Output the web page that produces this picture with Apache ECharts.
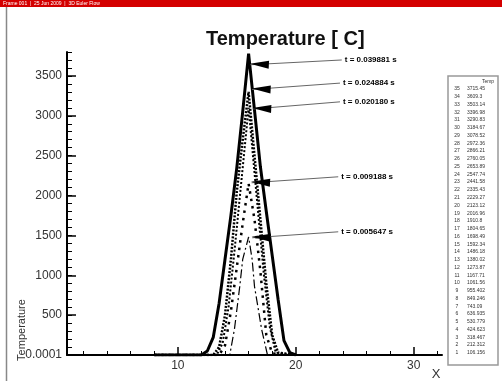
<!DOCTYPE html>
<html>
<head>
<meta charset="utf-8">
<script src="https://cdn.jsdelivr.net/npm/echarts@6/dist/echarts.min.js"></script>
<style>
  html, body { margin: 0; padding: 0; background: #fff; }
  #chart { width: 502px; height: 381px; }
</style>
</head>
<body>
<div id="chart"></div>
<script>
// temperature profiles along x at five instants
var x1 = [8, 12, 12.5, 13, 13.5, 14, 14.5, 15, 15.5, 16, 16.5, 17, 17.5, 18, 18.5, 19, 19.5, 20];
var t1 = [0, 0, 50, 220, 650, 1200, 1750, 2350, 3050, 3780, 3070, 2360, 1800, 1250, 700, 180, 30, 0];

var x2 = [8, 13, 13.5, 14, 14.5, 15, 15.5, 16, 16.5, 17, 17.5, 18, 18.5, 20];
var t2 = [0, 0, 100, 500, 1200, 2050, 2700, 3300, 2500, 1700, 900, 250, 30, 0];

var x3 = [8, 13.3, 13.8, 14.3, 14.8, 15.3, 15.6, 16, 16.4, 16.8, 17.3, 17.8, 18.3, 20];
var t3 = [0, 0, 150, 600, 1300, 2050, 2500, 3100, 2450, 1800, 1000, 350, 30, 0];

var x4 = [8, 13.5, 14, 14.5, 15, 15.5, 16, 16.5, 17, 17.5, 18, 20];
var t4 = [0, 0, 120, 550, 1100, 1650, 2150, 1700, 1050, 250, 20, 0];

var x5 = [8, 14.4, 14.8, 15.25, 15.5, 16, 16.3, 16.5, 17.1, 17.6, 20];
var t5 = [0, 0, 325, 860, 1200, 1480, 1200, 860, 325, 0, 0];

var timeLabels = ['t = 0.039881 s', 't = 0.024884 s', 't = 0.020180 s', 't = 0.009188 s', 't = 0.005647 s'];

var xMajor = [10, 20, 30];
var xMinor = [2, 4, 6, 8, 12, 14, 16, 18, 22, 24, 26, 28, 32];
var yMajor = [0, 500, 1000, 1500, 2000, 2500, 3000, 3500];

// contour level table
var levelIds = [35, 34, 33, 32, 31, 30, 29, 28, 27, 26, 25, 24, 23, 22, 21, 20, 19, 18, 17, 16, 15, 14, 13, 12, 11, 10, 9, 8, 7, 6, 5, 4, 3, 2, 1];
var levelVals = ['3715.45', '3609.3', '3503.14', '3396.98', '3290.83', '3184.67', '3078.52', '2972.36', '2866.21', '2760.05',
  '2653.89', '2547.74', '2441.58', '2335.43', '2229.27', '2123.12', '2016.96', '1910.8', '1804.65', '1698.49',
  '1592.34', '1486.18', '1380.02', '1273.87', '1167.71', '1061.56', '955.402', '849.246', '743.09', '636.935',
  '530.779', '424.623', '318.467', '212.312', '106.156'];

var FONT = 'Liberation Sans, Arial, sans-serif';

function pairs(xs, ys) {
  return xs.map(function (x, i) { return [x, ys[i]]; });
}

var myChart = echarts.init(document.getElementById('chart'));

// arrows: label end point -> tip on the curve
var arrows = [
  { label: [23.9, 3700], tip: [16.15, 3640] },
  { label: [23.75, 3410], tip: [16.3, 3330] },
  { label: [23.75, 3175], tip: [16.35, 3085] },
  { label: [23.6, 2235], tip: [16.25, 2160] },
  { label: [23.6, 1545], tip: [16.3, 1470] }
];
var markLines = arrows.map(function (a, i) {
  return [{ name: timeLabels[i], coord: a.label }, { coord: a.tip }];
});
var markHeads = arrows.map(function (a) {
  return { coord: a.tip, symbol: 'triangle', symbolSize: [8, 19], symbolRotate: 87, symbolOffset: [9, -0.5] };
});

// level table graphics
var table = [
  { type: 'rect', shape: { x: 448, y: 76, width: 50, height: 289 }, style: { fill: '#fff', stroke: '#999', lineWidth: 1.5 } },
  { type: 'text', x: 488, y: 82, style: { text: 'Temp', font: '5px ' + FONT, fill: '#333', align: 'center', verticalAlign: 'middle' } }
];
levelIds.forEach(function (id, i) {
  var yy = 89 + i * 7.76;
  table.push({ type: 'text', x: 457, y: yy, style: { text: String(id), font: '5px ' + FONT, fill: '#333', align: 'center', verticalAlign: 'middle' } });
  table.push({ type: 'text', x: 467, y: yy, style: { text: levelVals[i], font: '5px ' + FONT, fill: '#333', align: 'left', verticalAlign: 'middle' } });
});

var option = {
  animation: false,
  backgroundColor: '#fff',
  title: {
    text: 'Temperature [ C]',
    left: 201, top: 24,
    textStyle: { fontSize: 20, fontWeight: 'bold', color: '#111', fontFamily: FONT }
  },
  grid: { left: 67, right: 60, top: 52, bottom: 26 },
  xAxis: [
    {
      type: 'value', min: 0.6, max: 32.4,
      axisLine: { show: true, onZero: false, lineStyle: { color: '#000', width: 2 } },
      axisTick: { show: true, inside: true, length: 8, customValues: xMajor, lineStyle: { color: '#000', width: 1.5 } },
      axisLabel: { customValues: xMajor, color: '#333', fontSize: 12, fontFamily: FONT, margin: 5 },
      splitLine: { show: false }
    },
    {
      type: 'value', min: 0.6, max: 32.4, position: 'bottom',
      axisLine: { show: false },
      axisTick: { show: true, inside: true, length: 4, customValues: xMinor, lineStyle: { color: '#000', width: 1 } },
      axisLabel: { show: false },
      splitLine: { show: false }
    }
  ],
  yAxis: [
    {
      type: 'value', min: 0, max: 3800,
      axisLine: { show: true, onZero: false, lineStyle: { color: '#000', width: 2 } },
      axisTick: { show: true, inside: true, length: 9, customValues: yMajor, lineStyle: { color: '#000', width: 1.5 } },
      axisLabel: {
        customValues: yMajor, color: '#333', fontSize: 12, fontFamily: FONT, margin: 5,
        formatter: function (v) { return v === 0 ? '0.0001' : String(v); }
      },
      splitLine: { show: false }
    },
    {
      type: 'value', min: 0, max: 3800, position: 'left', interval: 100,
      axisLine: { show: false },
      axisTick: { show: true, inside: true, length: 5, lineStyle: { color: '#000', width: 1 } },
      axisLabel: { show: false },
      splitLine: { show: false }
    }
  ],
  series: [
    {
      name: timeLabels[0], type: 'line', data: pairs(x1, t1), symbol: 'none',
      lineStyle: { color: '#000', width: 3 },
      markLine: {
        silent: true,
        symbol: ['none', 'none'],
        lineStyle: { color: '#666', width: 1, type: 'solid' },
        label: { show: true, position: 'start', formatter: '{b}', color: '#000', fontSize: 8, fontWeight: 'bold', fontFamily: FONT, distance: 3 },
        data: markLines
      },
      markPoint: {
        silent: true,
        itemStyle: { color: '#000' },
        label: { show: false },
        data: markHeads
      }
    },
    {
      name: timeLabels[1], type: 'line', data: pairs(x2, t2), symbol: 'none',
      lineStyle: { color: '#000', width: 2.5, type: [2, 1.5] }
    },
    {
      name: timeLabels[2], type: 'line', data: pairs(x3, t3), symbol: 'none',
      lineStyle: { color: '#000', width: 2, type: [2, 2] }
    },
    {
      name: timeLabels[3], type: 'line', data: pairs(x4, t4), symbol: 'none',
      lineStyle: { color: '#000', width: 2.5, type: [2.5, 5] }
    },
    {
      name: timeLabels[4], type: 'line', data: pairs(x5, t5), symbol: 'none',
      lineStyle: { color: '#000', width: 1.2, type: [9, 3, 2, 3] }
    }
  ],
  graphic: [
    { type: 'rect', shape: { x: 0, y: 0, width: 502, height: 7 }, style: { fill: '#d40000' } },
    { type: 'text', x: 3, y: 3.5, style: { text: 'Frame 001  |  25 Jun 2009  |  3D Euler Flow', font: '5px ' + FONT, fill: '#fff', verticalAlign: 'middle' } },
    { type: 'line', shape: { x1: 6.5, y1: 7, x2: 6.5, y2: 381 }, style: { stroke: '#888', lineWidth: 1.5 } },
    { type: 'text', x: 22, y: 330, rotation: Math.PI / 2, style: { text: 'Temperature', font: '11px ' + FONT, fill: '#333', align: 'center', verticalAlign: 'middle' } },
    { type: 'text', x: 436, y: 374, style: { text: 'X', font: '13px ' + FONT, fill: '#333', align: 'center', verticalAlign: 'middle' } }
  ].concat(table)
};

myChart.setOption(option);
</script>
</body>
</html>
